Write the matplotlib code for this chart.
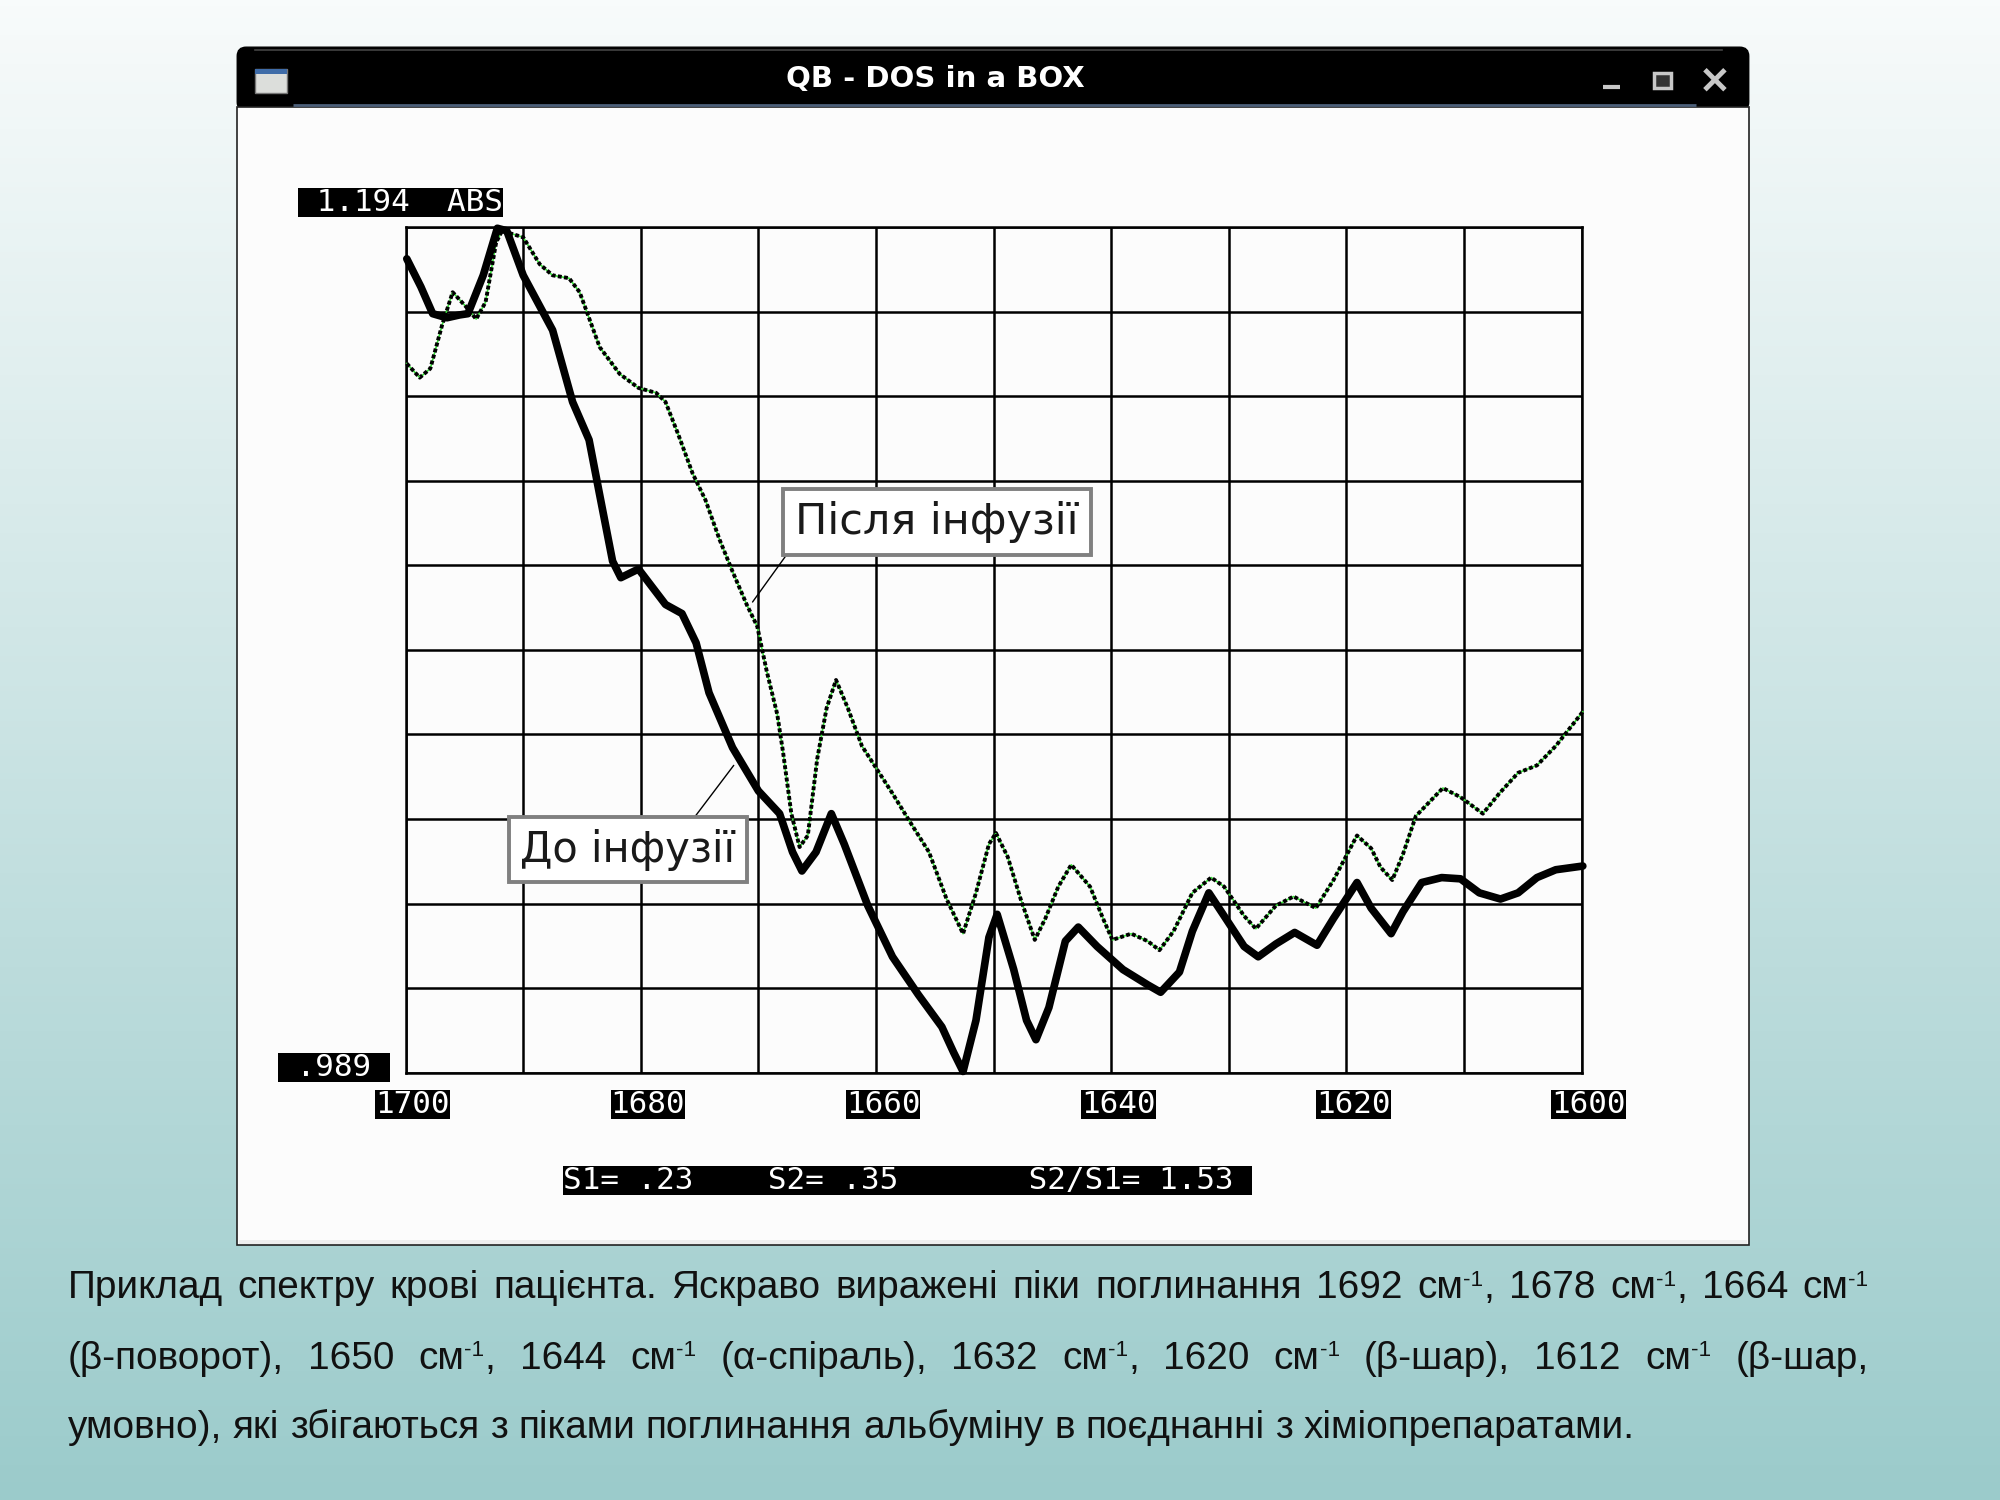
import re
import numpy as np
import matplotlib.pyplot as plt
from matplotlib.patches import Rectangle, FancyBboxPatch

# spectrum before infusion (thick line): wavenumber, absorbance
before_wn = [1699.9, 1698.7, 1697.7, 1696.5, 1695.4, 1694.7, 1693.4, 1692.2, 1691.4, 1690.0,
             1687.5, 1685.8, 1684.4, 1683.5, 1682.4, 1681.7, 1680.2, 1677.9, 1676.5, 1675.3,
             1674.2, 1672.2, 1670.0, 1668.2, 1667.1, 1666.3, 1665.1, 1663.8, 1662.7, 1660.7,
             1658.6, 1656.4, 1654.4, 1653.4, 1652.6, 1651.5, 1650.4, 1649.7, 1648.3, 1647.2,
             1646.4, 1645.3, 1643.9, 1642.8, 1641.2, 1639.0, 1636.9, 1635.8, 1634.2, 1633.1,
             1631.7, 1630.4, 1628.7, 1627.5, 1626.0, 1624.4, 1622.5, 1621.1, 1619.1, 1617.9,
             1616.2, 1615.2, 1613.6, 1611.9, 1610.3, 1608.7, 1606.9, 1605.4, 1603.8, 1602.2,
             1599.9]
before_abs = [1.1863, 1.1795, 1.1730, 1.1720, 1.1727, 1.1730, 1.1823, 1.1937, 1.1931, 1.1823,
              1.1690, 1.1516, 1.1424, 1.1291, 1.1130, 1.1090, 1.1111, 1.1025, 1.1003, 1.0932,
              1.0811, 1.0678, 1.0573, 1.0518, 1.0425, 1.0379, 1.0425, 1.0518, 1.0444, 1.0295,
              1.0171, 1.0079, 1.0001, 0.9939, 0.9893, 1.0017, 1.0218, 1.0274, 1.0141, 1.0017,
              0.9970, 1.0048, 1.0209, 1.0243, 1.0196, 1.0140, 1.0103, 1.0085, 1.0134, 1.0233,
              1.0326, 1.0270, 1.0196, 1.0171, 1.0202, 1.0230, 1.0199, 1.0264, 1.0351, 1.0289,
              1.0227, 1.0280, 1.0351, 1.0363, 1.0360, 1.0326, 1.0311, 1.0326, 1.0363, 1.0382,
              1.0391]

# spectrum after infusion (dotted line)
after_wn = [1699.9, 1698.8, 1697.9, 1696.9, 1696.0, 1694.9, 1694.0, 1693.2, 1692.3, 1691.8,
            1690.0, 1688.6, 1687.5, 1686.1, 1685.2, 1683.5, 1681.8, 1680.2, 1678.7, 1677.9,
            1676.8, 1675.6, 1674.5, 1673.3, 1672.2, 1671.0, 1670.1, 1669.3, 1668.4, 1667.9,
            1667.2, 1666.5, 1665.8, 1665.0, 1664.2, 1663.4, 1662.4, 1661.2, 1660.0, 1658.6,
            1657.2, 1655.5, 1654.0, 1652.6, 1651.5, 1650.4, 1649.8, 1648.8, 1647.7, 1646.5,
            1645.6, 1644.5, 1643.4, 1641.8, 1640.7, 1639.9, 1638.3, 1636.9, 1635.9, 1634.7,
            1633.1, 1631.5, 1630.4, 1628.7, 1627.7, 1626.0, 1624.5, 1622.6, 1621.1, 1619.1,
            1617.9, 1617.1, 1616.1, 1615.2, 1614.1, 1611.8, 1610.3, 1608.4, 1607.0, 1605.4,
            1603.8, 1602.2, 1599.9]
after_abs = [1.1609, 1.1575, 1.1597, 1.1702, 1.1782, 1.1748, 1.1717, 1.1758, 1.1903, 1.1931,
             1.1915, 1.1850, 1.1823, 1.1816, 1.1782, 1.1649, 1.1584, 1.1550, 1.1538, 1.1516,
             1.1436, 1.1343, 1.1278, 1.1182, 1.1105, 1.1025, 1.0972, 1.0864, 1.0759, 1.0666,
             1.0518, 1.0437, 1.0465, 1.0651, 1.0774, 1.0842, 1.0774, 1.0682, 1.0629, 1.0567,
             1.0502, 1.0425, 1.0311, 1.0227, 1.0326, 1.0444, 1.0471, 1.0413, 1.0311, 1.0212,
             1.0264, 1.0341, 1.0394, 1.0341, 1.0264, 1.0212, 1.0227, 1.0209, 1.0187, 1.0233,
             1.0326, 1.0363, 1.0341, 1.0270, 1.0239, 1.0295, 1.0317, 1.0289, 1.0357, 1.0465,
             1.0434, 1.0388, 1.0357, 1.0419, 1.0512, 1.0580, 1.0558, 1.0518, 1.0567, 1.0617,
             1.0635, 1.0682, 1.0765]

x_ticks = [1700, 1680, 1660, 1640, 1620, 1600]
y_top, y_bottom = 1.194, 0.989
top_label = " 1.194  ABS"
bottom_label = " .989 "
stats_text = "S1= .23    S2= .35       S2/S1= 1.53"
window_title = "QB - DOS in a BOX"
label_after = "Після інфузії"
label_before = "До інфузії"

caption = [
    "Приклад спектру крові пацієнта. Яскраво виражені піки поглинання 1692 см^-1^, 1678 см^-1^, 1664 см^-1^",
    "(β-поворот), 1650 см^-1^, 1644 см^-1^ (α-спіраль), 1632 см^-1^, 1620 см^-1^ (β-шар), 1612 см^-1^ (β-шар,",
    "умовно), які збігаються з піками поглинання альбуміну в поєднанні з хіміопрепаратами.",
]

W, H = 1568, 1176   # layout units (scaled to 2000x1500 on save)
fig = plt.figure(figsize=(20, 15), dpi=100)
bg = fig.add_axes([0, 0, 1, 1])
bg.set_xlim(0, W)
bg.set_ylim(H, 0)
bg.axis('off')

# page gradient
top_c = np.array([248, 251, 251]) / 255
bot_c = np.array([155, 203, 203]) / 255
t = np.linspace(0, 1, 256)[:, None, None]
grad = top_c * (1 - t) + bot_c * t
bg.imshow(grad, extent=[0, W, H, 0], aspect='auto', zorder=0)

# window frame
bg.add_patch(FancyBboxPatch((186, 37), 1185, 50, boxstyle='round,pad=0,rounding_size=7',
                            fc='black', ec='black', zorder=1))
bg.add_patch(Rectangle((186, 84), 1185, 892, fc='#fcfcfc', ec='#222222', lw=1.2, zorder=1))
bg.add_patch(Rectangle((187, 972), 1183, 3, fc='#eeeeee', ec='none', zorder=1.1))
bg.plot([230, 1330], [82, 82], color='#4d607a', lw=2, solid_capstyle='butt', zorder=1.2)
bg.plot([200, 1350], [39.5, 39.5], color='#444444', lw=1.2, zorder=1.2)
bg.text(733, 62, window_title, color='white', fontsize=21, fontweight='bold',
        family='DejaVu Sans', ha='center', va='center', zorder=2)
# window icon and buttons
bg.add_patch(Rectangle((200, 54), 25, 19, fc='#dcdedb', ec='#777777', lw=1, zorder=2))
bg.add_patch(Rectangle((200, 54), 25, 4, fc='#3f6ca8', ec='none', zorder=2.1))
bg.plot([1257, 1270], [68, 68], color='#c8c8c8', lw=3, solid_capstyle='butt', zorder=2)
bg.add_patch(Rectangle((1297, 57), 13, 12, fc='#333333', ec='#c8c8c8', lw=2.5, zorder=2))
bg.plot([1338, 1351], [56, 69], color='#c8c8c8', lw=3.5, zorder=2)
bg.plot([1338, 1351], [69, 56], color='#c8c8c8', lw=3.5, zorder=2)

# spectrum axes
ax = fig.add_axes([318 / W, 1 - 841 / H, 922 / W, 663 / H])
ax.patch.set_alpha(0)
ax.set_xlim(1700, 1600)
ax.set_ylim(y_bottom, y_top)
ax.set_xticks(np.arange(1600, 1701, 10))
ax.set_yticks(np.linspace(y_bottom, y_top, 11))
ax.grid(True, color='black', lw=1.8)
ax.set_axisbelow(True)
ax.tick_params(length=0, labelbottom=False, labelleft=False)
for s in ax.spines.values():
    s.set_linewidth(1.8)

ax.plot(before_wn, before_abs, color='black', lw=5.5, solid_joinstyle='round',
        solid_capstyle='round', clip_on=False, zorder=4)
ax.plot(after_wn, after_abs, color='#3ae03a', lw=1.2, clip_on=False, zorder=3)
ax.plot(after_wn, after_abs, color='black', lw=2.8, dashes=(1.0, 0.6), dash_capstyle='butt',
        clip_on=False, zorder=3.5)

mono = dict(family='DejaVu Sans Mono', fontsize=22.3, color='white',
            bbox=dict(boxstyle='square,pad=0', fc='black', ec='none'))
for wn in x_ticks:
    ax.text(wn - 0.6, -0.0377, str(wn), transform=ax.get_xaxis_transform(),
            ha='center', va='center', **mono)
ax.text(-0.0607, 0.006, bottom_label, transform=ax.transAxes, ha='center', va='center', **mono)
ax.text(-0.0043, 1.0294, top_label, transform=ax.transAxes, ha='center', va='center', **mono)
ax.text(0.4268, -0.1275, stats_text + " ", transform=ax.transAxes, ha='center', va='center', **mono)

box = dict(boxstyle='square,pad=0.28', fc='white', ec='#808080', lw=2.8)
ax.annotate(label_after, xy=(1670.5, 1.1031), xytext=(1654.8, 1.1226), fontsize=31,
            family='DejaVu Sans', color='#1a1a1a', ha='center', va='center', bbox=box,
            arrowprops=dict(arrowstyle='-', color='black', lw=1, relpos=(0, 0),
                            shrinkA=0, shrinkB=0), zorder=5)
ax.annotate(label_before, xy=(1672.1, 1.0635), xytext=(1681.1, 1.0431), fontsize=30,
            family='DejaVu Sans', color='#1a1a1a', ha='center', va='center', bbox=box,
            arrowprops=dict(arrowstyle='-', color='black', lw=1, relpos=(0.77, 1.0),
                            shrinkA=0, shrinkB=0), zorder=5)

# caption, justified like the slide
renderer = fig.canvas.get_renderer()
px2d = W / 2000
cap_font = 'Liberation Sans'


def seg_width(s, size):
    tt = bg.text(0, 0, s, fontsize=size, family=cap_font)
    w = tt.get_window_extent(renderer).width * px2d
    tt.remove()
    return w


def parse(word):
    parts = re.split(r'\^([^^]*)\^', word)
    return [(p, i % 2 == 1) for i, p in enumerate(parts) if p]


def word_width(word, size):
    return sum(seg_width(p, size * 0.58 if sup else size) for p, sup in parse(word))


def space_width(size):
    return seg_width("a a", size) - seg_width("aa", size)


x0, x1 = 53, 1465
base = 24.0
w3 = sum(word_width(w, base) for w in caption[2].split()) + space_width(base) * (len(caption[2].split()) - 1)
size = base * 1234 / w3
w1 = sum(word_width(w, base) for w in caption[0].split()) + space_width(base) * (len(caption[0].split()) - 1)
size = min(size, base * (x1 - x0) / w1)

baselines = [1018, 1073, 1127]
for li, line in enumerate(caption):
    words = line.split()
    widths = [word_width(w, size) for w in words]
    if li < len(caption) - 1:
        gap = (x1 - x0 - sum(widths)) / (len(words) - 1)
    else:
        gap = space_width(size)
    x = x0
    for w, ww in zip(words, widths):
        xx = x
        for p, sup in parse(w):
            fs = size * 0.58 if sup else size
            dy = -size * 0.33 * (1568 / 2000) * (100 / 72) if sup else 0
            bg.text(xx, baselines[li] + dy, p, fontsize=fs, family=cap_font, color='#111111',
                    ha='left', va='baseline', zorder=3)
            xx += seg_width(p, fs)
        x += ww + gap

fig.savefig('out.png', dpi=100)
